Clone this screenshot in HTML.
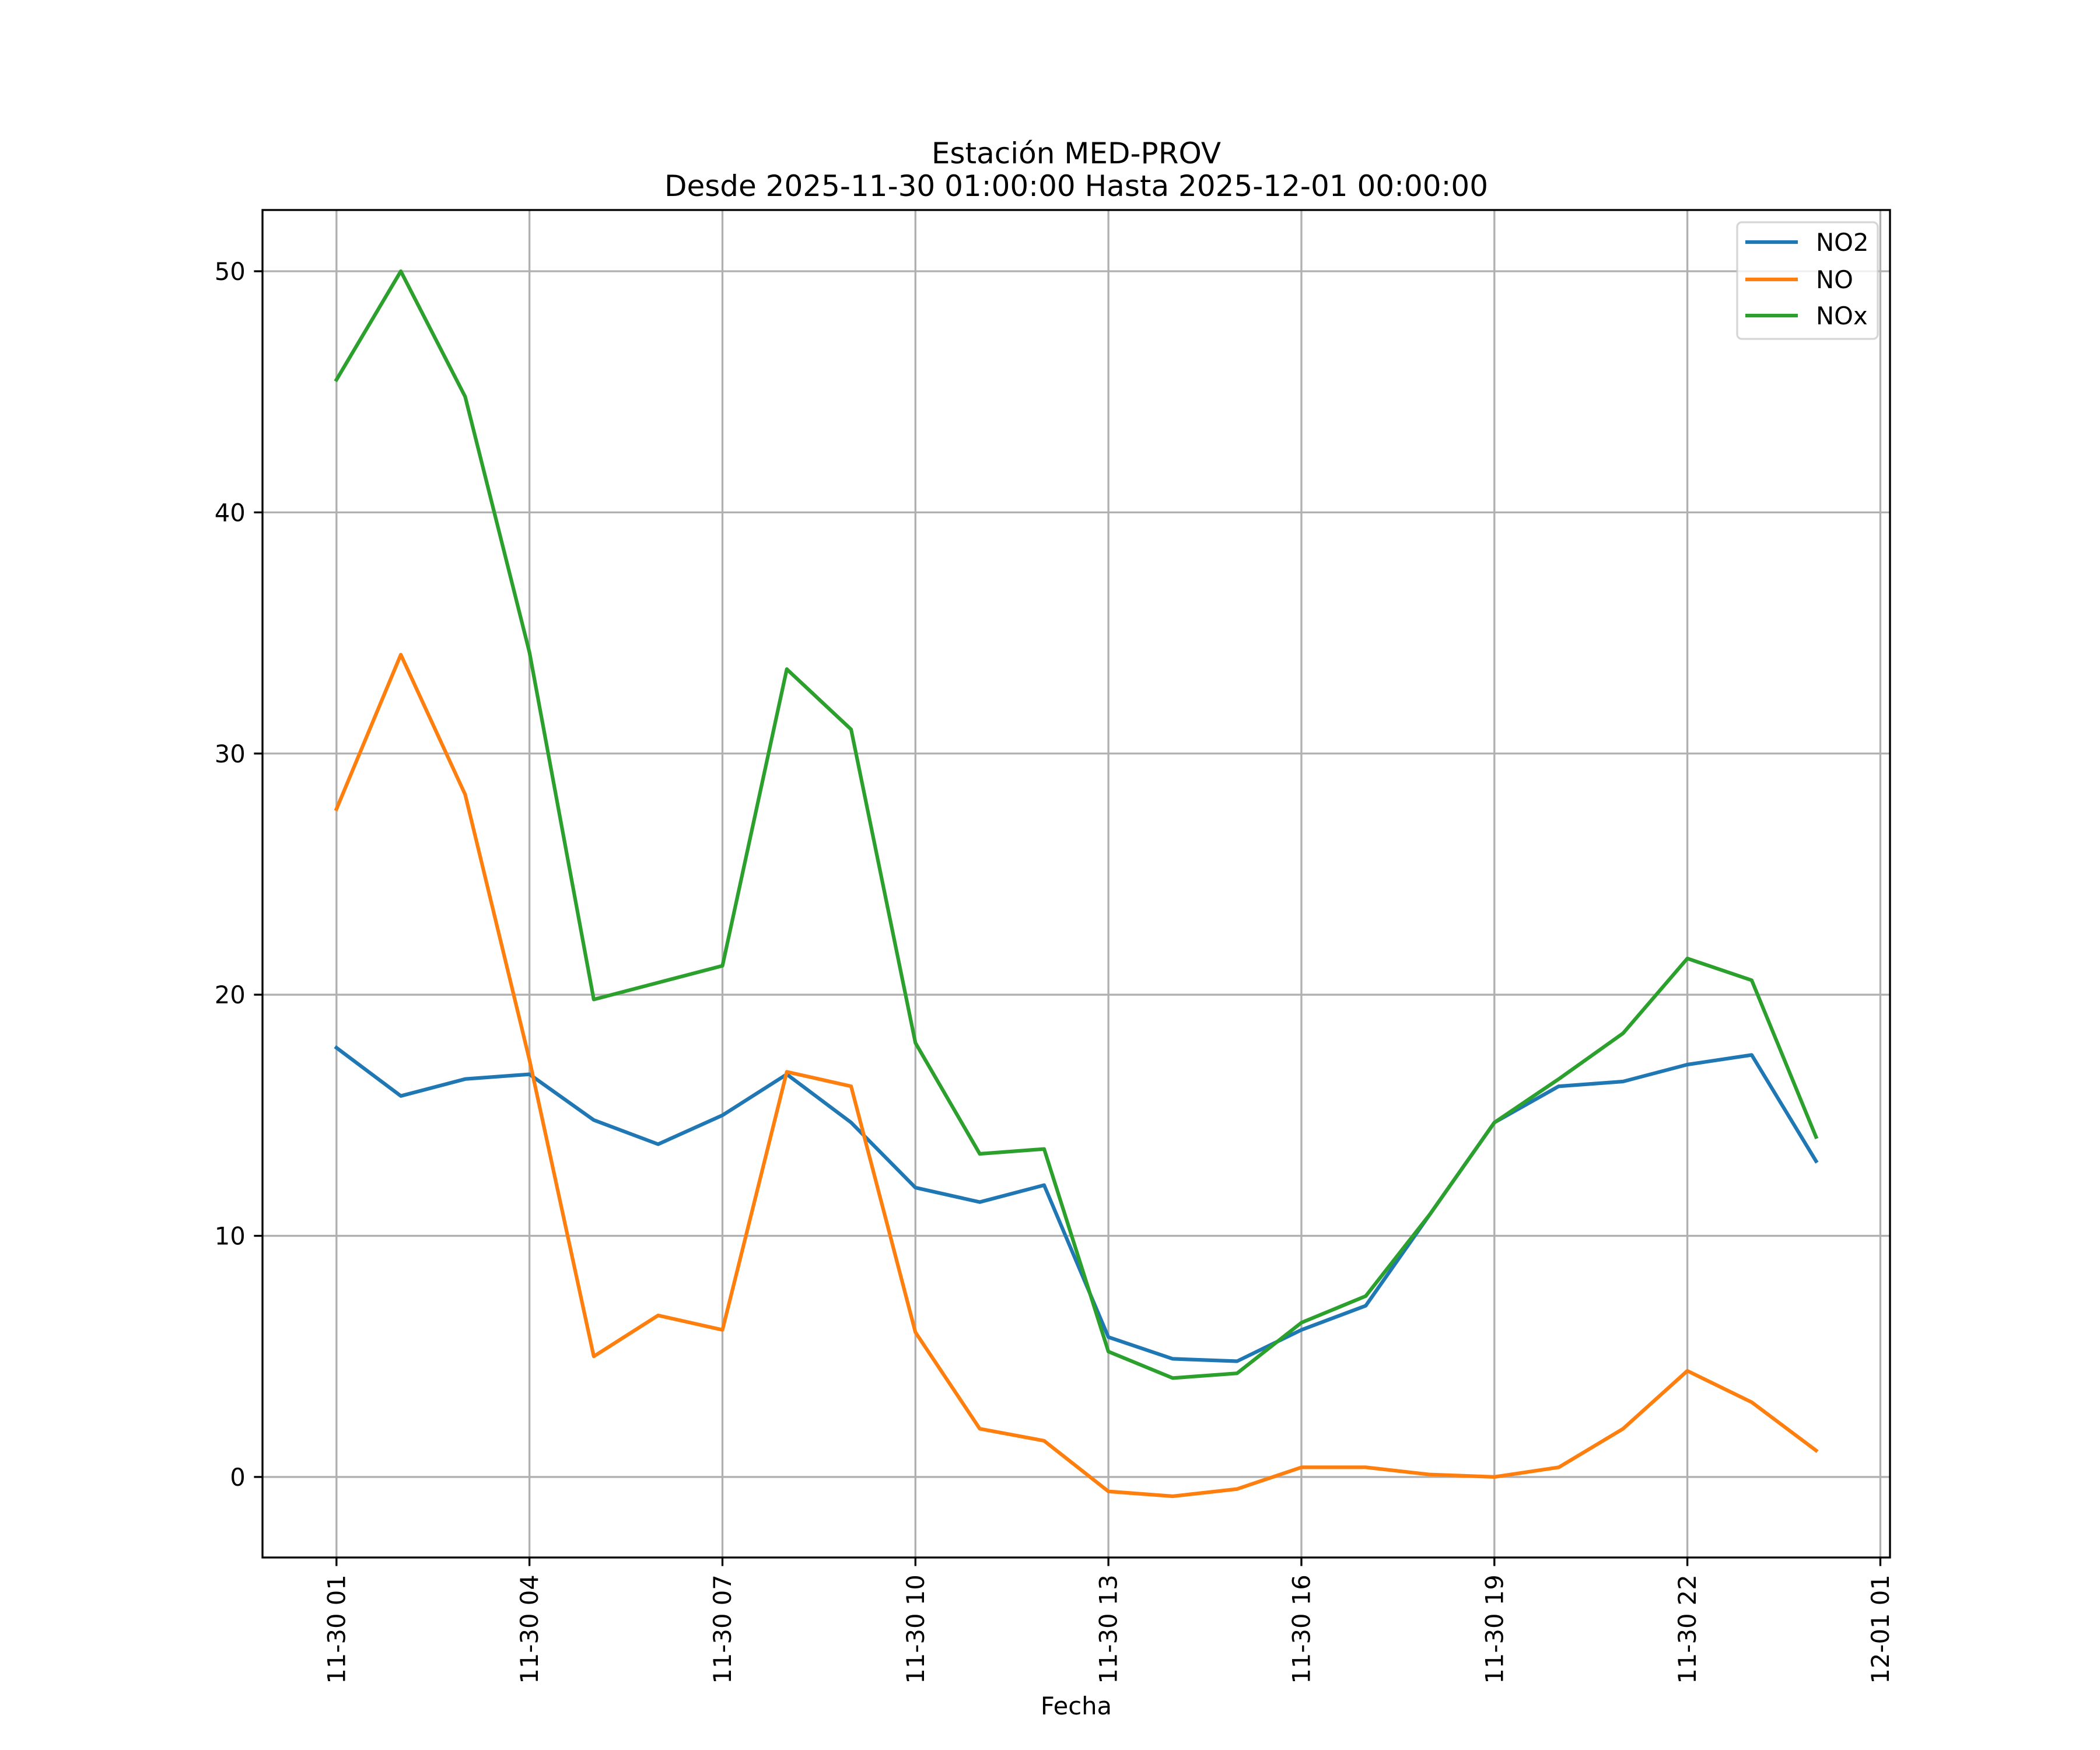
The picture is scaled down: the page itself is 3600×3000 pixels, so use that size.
<!DOCTYPE html>
<html><head><meta charset="utf-8"><style>
html,body{margin:0;padding:0;background:#fff;}
svg{display:block;}
text{font-family:"DejaVu Sans","Liberation Sans",sans-serif;fill:#000;}
</style></head><body>
<svg id="chart" width="3600" height="3000" viewBox="0 0 3600 3000" xmlns="http://www.w3.org/2000/svg">
<rect width="3600" height="3000" fill="#fff"/>
<g id="grid"></g>
<g id="series"></g>
<rect x="450" y="360" width="2790" height="2310" fill="none" stroke="#000" stroke-width="3.33"/>
<g id="ticks"></g>
<text x="1845" y="280" font-size="50" text-anchor="middle">Estación MED-PROV</text>
<text x="1845" y="336" font-size="50" text-anchor="middle">Desde 2025-11-30 01:00:00 Hasta 2025-12-01 00:00:00</text>
<text x="1845" y="2939" font-size="41.7" text-anchor="middle">Fecha</text>
<g>
<rect x="2978" y="381" width="241" height="200" rx="8" fill="#fff" fill-opacity="0.8" stroke="#cccccc" stroke-opacity="0.8" stroke-width="3.33"/>
<line x1="2992" y1="415" x2="3082" y2="415" stroke="#1f77b4" stroke-width="6.25"/>
<text x="3113" y="430" font-size="41.7">NO2</text>
<line x1="2992" y1="479" x2="3082" y2="479" stroke="#ff7f0e" stroke-width="6.25"/>
<text x="3113" y="494" font-size="41.7">NO</text>
<line x1="2992" y1="541" x2="3082" y2="541" stroke="#2ca02c" stroke-width="6.25"/>
<text x="3113" y="556" font-size="41.7">NOx</text>
</g>
</svg>
<script>
const hours = [0,1,2,3,4,5,6,7,8,9,10,11,12,13,14,15,16,17,18,19,20,21,22,23];
const no2 = [17.8,15.8,16.5,16.7,14.8,13.8,15.0,16.7,14.7,12.0,11.4,12.1,5.8,4.9,4.8,6.1,7.1,10.9,14.7,16.2,16.4,17.1,17.5,13.1];
const no = [27.7,34.1,28.3,17.3,5.0,6.7,6.1,16.8,16.2,6.0,2.0,1.5,-0.6,-0.8,-0.5,0.4,0.4,0.1,0.0,0.4,2.0,4.4,3.1,1.1];
const nox = [45.5,50.0,44.8,34.2,19.8,20.5,21.2,33.5,31.0,18.0,13.4,13.6,5.2,4.1,4.3,6.4,7.5,10.9,14.7,16.5,18.4,21.5,20.6,14.1];
const xTickHours = [0,3,6,9,12,15,18,21,24];
const xTickLabels = ["11-30 01","11-30 04","11-30 07","11-30 10","11-30 13","11-30 16","11-30 19","11-30 22","12-01 01"];
const yTicks = [0,10,20,30,40,50];

const NS="http://www.w3.org/2000/svg";
const L=450,R=3240,T=360,B=2670;
const allV=no2.concat(no,nox);
const vmin=Math.min(...allV), vmax=Math.max(...allV);
const hmin=Math.min(...hours), hmax=Math.max(...hours);
const xm=(hmax-hmin)*0.05, ym=(vmax-vmin)*0.05;
const x0=hmin-xm, x1=hmax+xm, y0=vmin-ym, y1=vmax+ym;
function sx(h){return L+(h-x0)/(x1-x0)*(R-L);}
function sy(v){return B-(v-y0)/(y1-y0)*(B-T);}
function mk(tag,attrs,parent){const e=document.createElementNS(NS,tag);for(const k in attrs)e.setAttribute(k,attrs[k]);parent.appendChild(e);return e;}
const grid=document.getElementById('grid'), ticks=document.getElementById('ticks'), series=document.getElementById('series');
xTickHours.forEach((h,i)=>{
  const x=sx(h);
  const g=mk('line',{x1:x,y1:T,x2:x,y2:B,stroke:'#b0b0b0','stroke-width':3.33},grid);
  
  
  const t=mk('line',{x1:x,y1:B,x2:x,y2:B+14.6,stroke:'#000','stroke-width':3.33},ticks);
  
  
  const lb=mk('text',{x:0,y:0,'font-size':41.7,'text-anchor':'end','dominant-baseline':'central',transform:`translate(${x},${B+29.2}) rotate(-90)`},ticks);
  lb.textContent=xTickLabels[i];
  
  
});
yTicks.forEach(v=>{
  const y=sy(v);
  const g=mk('line',{x1:L,y1:y,x2:R,y2:y,stroke:'#b0b0b0','stroke-width':3.33},grid);
  
  
  const t=mk('line',{x1:L-14.6,y1:y,x2:L,y2:y,stroke:'#000','stroke-width':3.33},ticks);
  
  
  const lb=mk('text',{x:L-29.2,y:y+15,'font-size':41.7,'text-anchor':'end'},ticks);
  lb.textContent=String(v);
  
  
});
[[no2,'#1f77b4','line-no2'],[no,'#ff7f0e','line-no'],[nox,'#2ca02c','line-nox']].forEach(([vals,col,name])=>{
  const pts=vals.map((v,i)=>sx(hours[i]).toFixed(1)+','+sy(v).toFixed(1)).join(' ');
  const p=mk('polyline',{points:pts,fill:'none',stroke:col,'stroke-width':6.25,'stroke-linejoin':'round','stroke-linecap':'square'},series);
  
  
});
</script>
</body></html>
